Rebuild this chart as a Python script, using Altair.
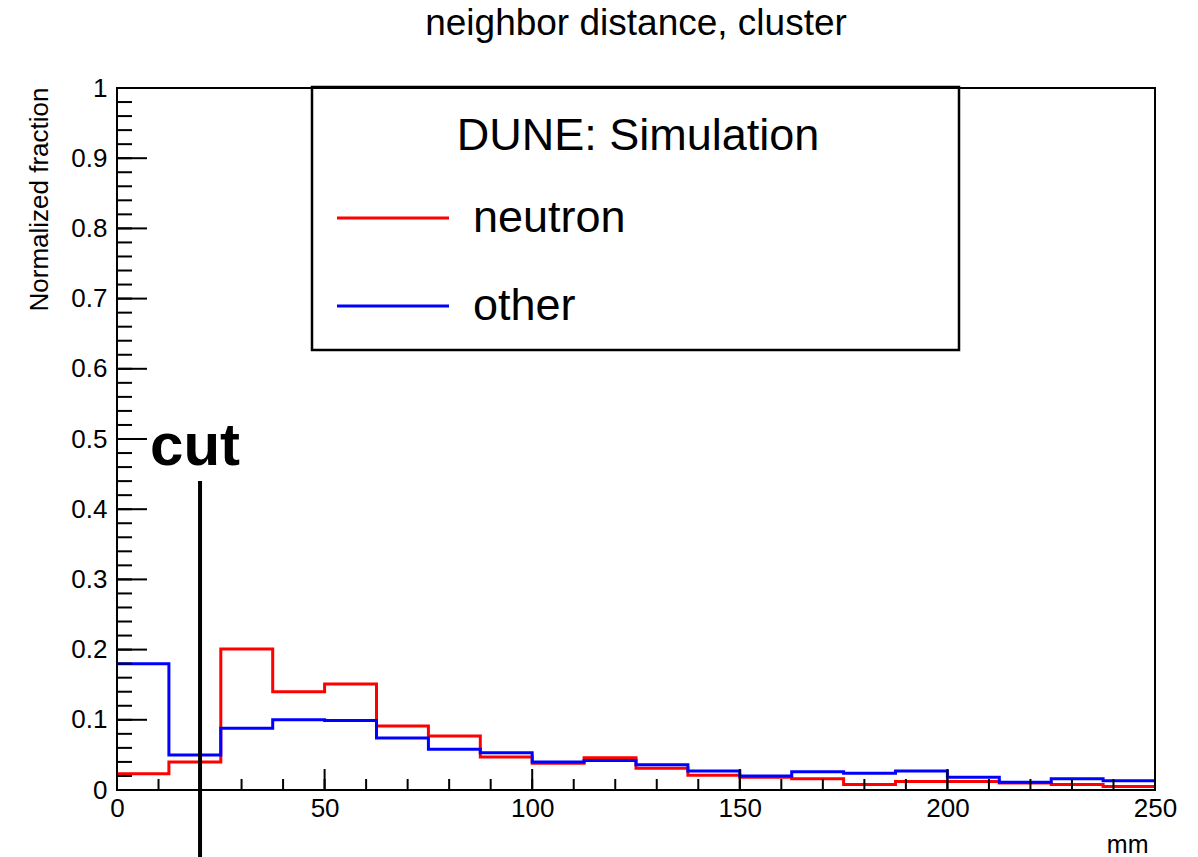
import altair as alt
import pandas as pd

# ---- data ----
bin_edges = [0, 12.5, 25, 37.5, 50, 62.5, 75, 87.5, 100, 112.5, 125, 137.5,
             150, 162.5, 175, 187.5, 200, 212.5, 225, 237.5, 250]
neutron = [0.023, 0.040, 0.201, 0.140, 0.151, 0.091, 0.077, 0.047, 0.038, 0.046,
           0.031, 0.021, 0.018, 0.016, 0.008, 0.012, 0.012, 0.010, 0.008, 0.005]
other = [0.180, 0.050, 0.088, 0.100, 0.099, 0.074, 0.058, 0.053, 0.040, 0.042,
         0.036, 0.027, 0.020, 0.026, 0.024, 0.027, 0.018, 0.011, 0.016, 0.013]
series_names = ["neutron", "other"]
series_colors = ["#ff0000", "#0000ff"]

x_label_values = [0, 50, 100, 150, 200, 250]
x_minor_values = [v for v in range(0, 251, 10)]
y_label_values = [0, 0.1, 0.2, 0.3, 0.4, 0.5, 0.6, 0.7, 0.8, 0.9, 1.0]
y_minor_values = [round(i * 0.02, 2) for i in range(51)]

cut_value = 20
cut_line_top = 0.44
cut_text_y = 0.463

FONT = "Liberation Sans"
W, H = 1038, 702

rows = []
for name, vals in zip(series_names, [neutron, other]):
    ext = vals + [vals[-1]]
    for e, v in zip(bin_edges, ext):
        rows.append({"x": e, "value": v, "series": name})
df = pd.DataFrame(rows)

xscale = alt.Scale(domain=[0, 250], nice=False, zero=False)
yscale = alt.Scale(domain=[0, 1], nice=False, zero=False)

x_axis = alt.Axis(values=x_label_values, ticks=False, tickSize=0, domain=False, grid=False,
                  labelFontSize=26, labelPadding=5, labelFont=FONT, labelColor="black",
                  labelFlush=False,
                  title="mm", titleFontSize=25, titleFontWeight="normal", titleFont=FONT,
                  titleColor="black", titleX=1031, titleY=62, titleAlign="right",
                  titleBaseline="alphabetic", titleAnchor="end")
y_axis = alt.Axis(values=y_label_values, ticks=False, tickSize=0, domain=False, grid=False,
                  labelFontSize=26, labelPadding=10, labelFont=FONT, labelColor="black",
                  labelFlush=False,
                  labelExpr="datum.value == 0 ? '0' : datum.value == 1 ? '1' : format(datum.value, '.1f')",
                  title="Normalized fraction", titleFontSize=26, titleFontWeight="normal",
                  titleFont=FONT, titleColor="black", titleAngle=270, titleAlign="right",
                  titleBaseline="alphabetic", titleX=-70, titleY=-1, titleAnchor="end")


def X(field):
    return alt.X(field, scale=xscale, axis=x_axis, title="mm")


def Y(field):
    return alt.Y(field, scale=yscale, axis=y_axis, title="Normalized fraction")


hist = alt.Chart(df).mark_line(interpolate="step-after", strokeWidth=3).encode(
    x=X("x:Q"),
    y=Y("value:Q"),
    color=alt.Color("series:N",
                    scale=alt.Scale(domain=series_names, range=series_colors),
                    legend=alt.Legend(orient="none", legendX=218.5, legendY=86, title=None,
                                      symbolType="stroke", symbolSize=12544, symbolStrokeWidth=3,
                                      clipHeight=88, rowPadding=0, padding=0,
                                      labelFontSize=45, labelFont=FONT, labelColor="black",
                                      labelOffset=22.5, labelLimit=500)),
    order=alt.Order("x:Q"),
)

ymaj = alt.Chart(pd.DataFrame({"v": y_label_values})).mark_rule(color="black", strokeWidth=2).encode(
    y=Y("v:Q"), x=alt.value(0), x2=alt.value(30))
ymin = alt.Chart(pd.DataFrame({"v": y_minor_values})).mark_rule(color="black", strokeWidth=2).encode(
    y=Y("v:Q"), x=alt.value(0), x2=alt.value(15))
xmaj = alt.Chart(pd.DataFrame({"v": x_label_values})).mark_rule(color="black", strokeWidth=2).encode(
    x=X("v:Q"), y=alt.value(H), y2=alt.value(H - 21))
xmin = alt.Chart(pd.DataFrame({"v": x_minor_values})).mark_rule(color="black", strokeWidth=2).encode(
    x=X("v:Q"), y=alt.value(H), y2=alt.value(H - 11))

one = pd.DataFrame({"t": ["DUNE: Simulation"]})
box = alt.Chart(one).mark_rect(filled=False, stroke="black", strokeWidth=2.5).encode(
    x=alt.value(195), x2=alt.value(842), y=alt.value(-1), y2=alt.value(262))
dune = alt.Chart(one).mark_text(fontSize=45, font=FONT, align="center", baseline="alphabetic",
                                color="black").encode(
    x=alt.value(521), y=alt.value(62), text="t:N")

cut_df = pd.DataFrame({"x": [cut_value], "ytop": [cut_line_top], "ytext": [cut_text_y], "t": ["cut"]})
cut_line = alt.Chart(cut_df).mark_rule(color="black", strokeWidth=4).encode(
    x=X("x:Q"), y=Y("ytop:Q"), y2=alt.value(800))
cut_text = alt.Chart(cut_df).mark_text(fontSize=60, fontWeight="bold", font=FONT, align="center",
                                       baseline="alphabetic", dx=-5, color="black").encode(
    x=X("x:Q"), y=Y("ytext:Q"), text="t:N")

chart = alt.layer(box, dune, hist, ymin, ymaj, xmin, xmaj, cut_line, cut_text).properties(
    width=W, height=H,
    title=alt.TitleParams("neighbor distance, cluster", fontSize=37, fontWeight="normal", font=FONT,
                          color="black", anchor="middle", baseline="alphabetic", offset=3),
    autosize=alt.AutoSizeParams(type="none"),
    padding={"left": 117, "top": 88, "right": 43, "bottom": 67},
).configure(font=FONT, background="white").configure_view(stroke="black", strokeWidth=2)

chart.save("out.html", embed_options={"renderer": "svg", "actions": False})
